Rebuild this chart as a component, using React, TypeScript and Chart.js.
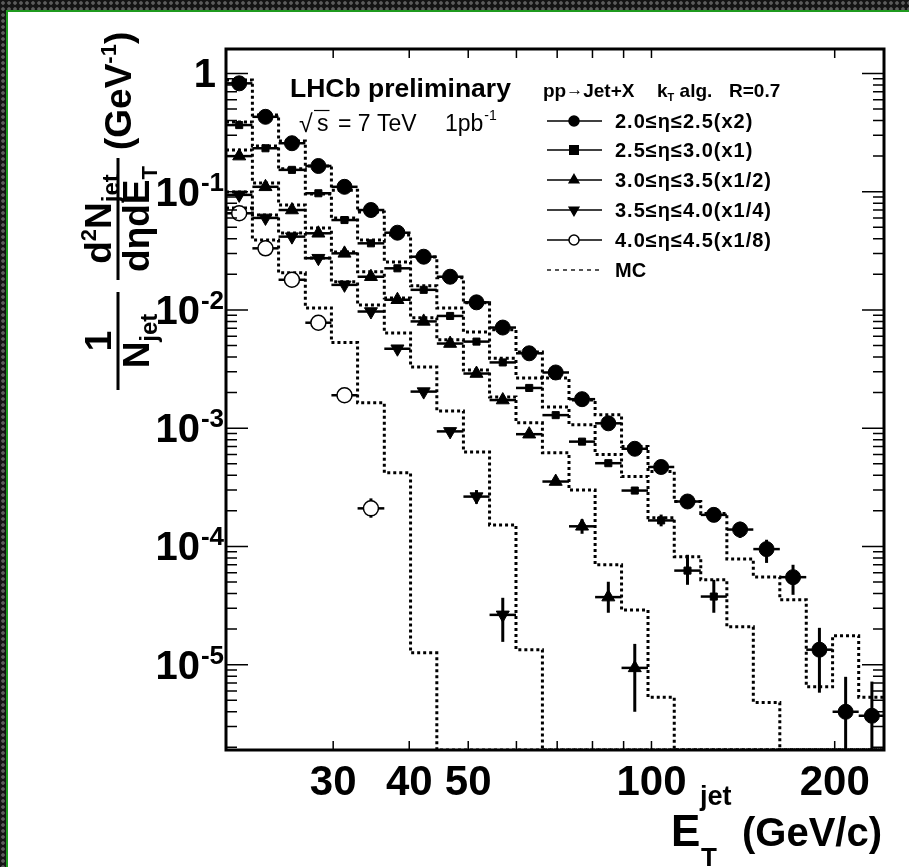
import React, { useEffect, useRef } from 'react';
import { Chart, registerables } from 'chart.js';

Chart.register(...registerables);

// ---------------- data ----------------
const BIN_EDGES = [20, 22.1, 24.4, 27.0, 29.8, 32.9, 36.4, 40.2, 44.4, 49.1, 54.2, 59.9, 66.2, 73.2, 80.8, 89.3, 98.7, 109, 120.5, 133, 147, 162.5, 179.6, 198.4, 219, 242];

const SERIES_LABELS = ['2.0≤η≤2.5(x2)', '2.5≤η≤3.0(x1)', '3.0≤η≤3.5(x1/2)', '3.5≤η≤4.0(x1/4)', '4.0≤η≤4.5(x1/8)'];
const MC_LABEL = 'MC';

const DATA_ETA_20_25 = [0.825, 0.43, 0.257, 0.165, 0.11, 0.07, 0.045, 0.0282, 0.0191, 0.0116, 0.0071, 0.0043, 0.00296, 0.00176, 0.0011, 0.00067, 0.00047, 0.00024, 0.000185, 0.000139, 0.000095, 0.000055, 0.0000134, 0.000004, 0.0000037];
const DATA_ETA_25_30 = [0.366, 0.233, 0.153, 0.097, 0.0576, 0.0366, 0.0225, 0.0148, 0.0089, 0.0054, 0.0036, 0.00219, 0.00129, 0.00077, 0.000506, 0.000297, 0.000166, 0.0000625, 0.0000377];
const DATA_ETA_30_35 = [0.2, 0.11, 0.07, 0.0445, 0.0301, 0.0191, 0.0122, 0.008, 0.0052, 0.0029, 0.00173, 0.00089, 0.000354, 0.000148, 0.0000373, 0.0000094];
const DATA_ETA_35_40 = [0.094, 0.06, 0.0417, 0.0274, 0.0163, 0.0097, 0.0047, 0.00204, 0.00094, 0.000264, 0.0000264];
const DATA_ETA_40_45 = [0.0657, 0.0332, 0.018, 0.0078, 0.0019, 0.00021];

// vertical error bar bounds (null = hidden behind marker, 0 = below the axis)
const ERR_LO_20_25 = [null, null, null, null, null, null, null, null, null, null, null, null, null, null, null, null, null, null, null, 0.000118, 0.0000726, 0.000039, 0.0000058, 0, 0];
const ERR_HI_20_25 = [null, null, null, null, null, null, null, null, null, null, null, null, null, null, null, null, null, null, null, 0.000162, 0.000114, 0.00007, 0.0000205, 0.0000079, 0.0000072];
const ERR_LO_25_30 = [null, null, null, null, null, null, null, null, null, null, null, null, null, null, null, null, 0.000148, 0.0000474, 0.0000275];
const ERR_HI_25_30 = [null, null, null, null, null, null, null, null, null, null, null, null, null, null, null, null, 0.000186, 0.000085, 0.0000522];
const ERR_LO_30_35 = [null, null, null, null, null, null, null, null, null, null, null, null, null, 0.000128, 0.0000275, 0.000004];
const ERR_HI_30_35 = [null, null, null, null, null, null, null, null, null, null, null, null, null, 0.00017, 0.0000503, 0.000015];
const ERR_LO_35_40 = [null, null, null, null, null, null, null, null, null, 0.00023, 0.0000156];
const ERR_HI_35_40 = [null, null, null, null, null, null, null, null, null, 0.0003, 0.0000368];
const ERR_LO_40_45 = [null, null, null, null, null, 0.000175];
const ERR_HI_40_45 = [null, null, null, null, null, 0.000255];

// MC histograms (0 = empty bin, drawn on the axis floor)
const MC_ETA_20_25 = [0.88, 0.445, 0.268, 0.165, 0.103, 0.0674, 0.0431, 0.0281, 0.0187, 0.0115, 0.0068, 0.0044, 0.00266, 0.00173, 0.0013, 0.0007, 0.00043, 0.00024, 0.00019, 0.0000785, 0.0000553, 0.0000354, 0.0000065, 0.0000176, 0.0000053];
const MC_ETA_25_30 = [0.388, 0.243, 0.156, 0.0956, 0.06, 0.039, 0.0254, 0.016, 0.0104, 0.0065, 0.0039, 0.00266, 0.00151, 0.00107, 0.0006, 0.00039, 0.000175, 0.0000817, 0.0000522, 0.0000209, 0.0000048, 0, 0, 0, 0];
const MC_ETA_30_35 = [0.225, 0.1185, 0.0772, 0.0493, 0.0309, 0.021, 0.0126, 0.0086, 0.0056, 0.0031, 0.00184, 0.00111, 0.00062, 0.0003, 0.00007, 0.000029, 0.0000053, 0, 0, 0, 0, 0, 0, 0, 0];
const MC_ETA_35_40 = [0.0994, 0.0635, 0.0448, 0.0275, 0.0173, 0.011, 0.0064, 0.0033, 0.0014, 0.00063, 0.000152, 0.0000134, 0, 0, 0, 0, 0, 0, 0, 0, 0, 0, 0, 0, 0];
const MC_ETA_40_45 = [0.0728, 0.0391, 0.0206, 0.0104, 0.0053, 0.00164, 0.00042, 0.0000126, 0, 0, 0, 0, 0, 0, 0, 0, 0, 0, 0, 0, 0, 0, 0, 0, 0];

const X_MIN = 20;
const X_MAX = 241;
const Y_MIN = 1.9e-6;
const Y_MAX = 1.61;
const X_TICK_VALUES = [30, 40, 50, 100, 200];
const X_MARK_VALUES = [30, 40, 50, 60, 70, 80, 90, 100, 200];
const Y_TICK_VALUES = [1, 0.1, 0.01, 0.001, 0.0001, 0.00001];
const Y_TICK_EXPONENTS = ['', '-1', '-2', '-3', '-4', '-5'];

// ---------------- styling ----------------
const FONT = '"Liberation Sans", Arial, Helvetica, sans-serif';

const SERIES = [
  { label: SERIES_LABELS[0], values: DATA_ETA_20_25, lo: ERR_LO_20_25, hi: ERR_HI_20_25, mc: MC_ETA_20_25, style: 'circle', r: 7.5, rot: 0, fill: '#000' },
  { label: SERIES_LABELS[1], values: DATA_ETA_25_30, lo: ERR_LO_25_30, hi: ERR_HI_25_30, mc: MC_ETA_25_30, style: 'rect', r: 5, rot: 0, fill: '#000' },
  { label: SERIES_LABELS[2], values: DATA_ETA_30_35, lo: ERR_LO_30_35, hi: ERR_HI_30_35, mc: MC_ETA_30_35, style: 'triangle', r: 7.5, rot: 0, fill: '#000' },
  { label: SERIES_LABELS[3], values: DATA_ETA_35_40, lo: ERR_LO_35_40, hi: ERR_HI_35_40, mc: MC_ETA_35_40, style: 'triangle', r: 7.5, rot: 180, fill: '#000' },
  { label: SERIES_LABELS[4], values: DATA_ETA_40_45, lo: ERR_LO_40_45, hi: ERR_HI_40_45, mc: MC_ETA_40_45, style: 'circle', r: 7.5, rot: 0, fill: '#fff' },
];

const binCenter = (i: number) => Math.sqrt(BIN_EDGES[i] * BIN_EDGES[i + 1]);

type Run = { t: string; s: number; dy?: number; bold?: boolean; dx?: number };
function setFont(ctx: CanvasRenderingContext2D, r: Run) {
  ctx.font = `${r.bold === false ? 'normal' : 'bold'} ${r.s}px ${FONT}`;
}
function runsWidth(ctx: CanvasRenderingContext2D, runs: Run[]) {
  let w = 0;
  for (const r of runs) { setFont(ctx, r); w += ctx.measureText(r.t).width + (r.dx || 0); }
  return w;
}
function drawRuns(ctx: CanvasRenderingContext2D, runs: Run[], x: number, y: number, align = 'left') {
  let cx = align === 'left' ? x : align === 'center' ? x - runsWidth(ctx, runs) / 2 : x - runsWidth(ctx, runs);
  ctx.textAlign = 'left';
  ctx.textBaseline = 'alphabetic';
  for (const r of runs) {
    setFont(ctx, r);
    cx += r.dx || 0;
    ctx.fillText(r.t, cx, y + (r.dy || 0));
    cx += ctx.measureText(r.t).width;
  }
  return cx;
}

function drawMarker(ctx: CanvasRenderingContext2D, style: string, x: number, y: number, r: number, rot: number, fill: string) {
  ctx.save();
  ctx.fillStyle = fill;
  ctx.strokeStyle = '#000';
  ctx.lineWidth = 1.5;
  ctx.beginPath();
  if (style === 'circle') {
    ctx.arc(x, y, r, 0, Math.PI * 2);
  } else if (style === 'rect') {
    const h = r * Math.SQRT1_2;
    ctx.rect(x - h, y - h, 2 * h, 2 * h);
  } else {
    let a = (rot * Math.PI) / 180;
    ctx.moveTo(x + Math.sin(a) * r, y - Math.cos(a) * r);
    a += (2 * Math.PI) / 3;
    ctx.lineTo(x + Math.sin(a) * r, y - Math.cos(a) * r);
    a += (2 * Math.PI) / 3;
    ctx.lineTo(x + Math.sin(a) * r, y - Math.cos(a) * r);
    ctx.closePath();
  }
  ctx.fill();
  ctx.stroke();
  ctx.restore();
}

function buildConfig(): any {
  const datasets: any[] = [];
  const markerInfo: Record<number, any> = {};
  SERIES.forEach((s) => {
    const mcPts = s.mc.map((v, i) => ({ x: BIN_EDGES[i], y: v > 0 ? v : Y_MIN }));
    const last = s.mc[s.mc.length - 1];
    mcPts.push({ x: BIN_EDGES[s.mc.length], y: last > 0 ? last : Y_MIN });
    datasets.push({
      type: 'line',
      label: s.label + ' ' + MC_LABEL,
      data: mcPts,
      stepped: 'before',
      borderColor: '#000',
      borderWidth: 3,
      borderDash: [3, 3],
      borderCapStyle: 'butt',
      pointRadius: 0,
      fill: false,
      order: 2,
    });
  });
  SERIES.forEach((s) => {
    markerInfo[datasets.length] = s;
    datasets.push({
      type: 'scatter',
      label: s.label,
      data: s.values.map((v, i) => ({ x: binCenter(i), y: v })),
      showLine: false,
      pointStyle: s.style,
      pointRadius: s.r,
      pointRotation: s.rot,
      pointBackgroundColor: s.fill,
      pointBorderColor: '#000',
      pointBorderWidth: s.fill === '#fff' ? 1.5 : 1,
      order: 1,
    });
  });

  const decor = {
    id: 'hepDecor',
    beforeDatasetDraw(chart: any, args: any) {
      const s = markerInfo[args.index];
      if (!s) return;
      const { ctx, chartArea: a } = chart;
      const xs = chart.scales.x;
      const ys = chart.scales.y;
      ctx.save();
      ctx.beginPath();
      ctx.rect(a.left, a.top, a.right - a.left, a.bottom - a.top);
      ctx.clip();
      ctx.strokeStyle = '#000';
      s.values.forEach((v: number, i: number) => {
        const y = ys.getPixelForValue(v);
        ctx.lineWidth = 2.5;
        ctx.beginPath();
        ctx.moveTo(xs.getPixelForValue(BIN_EDGES[i]), y);
        ctx.lineTo(xs.getPixelForValue(BIN_EDGES[i + 1]), y);
        ctx.stroke();
        const lo = s.lo[i];
        const hi = s.hi[i];
        if (lo !== null && hi !== null) {
          const x = xs.getPixelForValue(binCenter(i));
          ctx.lineWidth = 3;
          ctx.beginPath();
          ctx.moveTo(x, lo > 0 ? ys.getPixelForValue(lo) : a.bottom + 5);
          ctx.lineTo(x, ys.getPixelForValue(hi));
          ctx.stroke();
        }
      });
      ctx.restore();
    },
    afterDraw(chart: any) {
      const { ctx, chartArea: a } = chart;
      const xs = chart.scales.x;
      const ys = chart.scales.y;
      ctx.save();
      ctx.strokeStyle = '#000';
      ctx.fillStyle = '#000';
      ctx.setLineDash([]);

      // y tick marks (left & right)
      ctx.lineWidth = 1.5;
      for (let e = -6; e <= 0; e++) {
        for (let m = 1; m <= 9; m++) {
          const v = m * Math.pow(10, e);
          if (v < Y_MIN || v > Y_MAX) continue;
          const y = ys.getPixelForValue(v);
          const len = m === 1 ? 22 : 11;
          ctx.beginPath();
          ctx.moveTo(a.left, y);
          ctx.lineTo(a.left + len, y);
          ctx.moveTo(a.right, y);
          ctx.lineTo(a.right - len, y);
          ctx.stroke();
        }
      }
      // x tick marks (top & bottom)
      X_MARK_VALUES.forEach((v) => {
        const x = xs.getPixelForValue(v);
        ctx.beginPath();
        ctx.moveTo(x, a.top);
        ctx.lineTo(x, a.top + 9);
        ctx.moveTo(x, a.bottom);
        ctx.lineTo(x, a.bottom - 9);
        ctx.stroke();
      });
      // frame
      ctx.lineWidth = 3;
      ctx.strokeRect(a.left, a.top, a.right - a.left, a.bottom - a.top);

      // y tick labels with superscripts
      Y_TICK_VALUES.forEach((v, i) => {
        const y = ys.getPixelForValue(v) + 14;
        const exp = Y_TICK_EXPONENTS[i];
        if (exp) {
          drawRuns(ctx, [{ t: '10', s: 40 }, { t: exp, s: 26, dy: -15, dx: 1 }], 224, y, 'right');
        } else {
          drawRuns(ctx, [{ t: '1', s: 40 }], 216, y, 'right');
        }
      });

      // y axis title (rotated)
      ctx.save();
      ctx.translate(118, 400);
      ctx.rotate(-Math.PI / 2);
      ctx.lineWidth = 3;
      ctx.beginPath();
      ctx.moveTo(10, 0);
      ctx.lineTo(108, 0);
      ctx.moveTo(120, 0);
      ctx.lineTo(242, 0);
      ctx.stroke();
      drawRuns(ctx, [{ t: '1', s: 37 }], 59, -7, 'center');
      drawRuns(ctx, [{ t: 'N', s: 37 }, { t: 'jet', s: 24, dy: 8 }], 59, 31, 'center');
      drawRuns(ctx, [{ t: 'd', s: 37 }, { t: '2', s: 22, dy: -15 }, { t: 'N', s: 37 }, { t: 'jet', s: 24, dy: 8 }], 181, -7, 'center');
      drawRuns(ctx, [{ t: 'd', s: 37 }, { t: 'η', s: 37 }, { t: 'd', s: 37 }, { t: 'E', s: 37 }, { t: 'T', s: 22, dy: 8 }], 181, 31, 'center');
      drawRuns(ctx, [{ t: '(GeV', s: 37 }, { t: '-1', s: 22, dy: -15 }, { t: ')', s: 37 }], 250, 13, 'left');
      ctx.restore();

      // x axis title
      drawRuns(ctx, [{ t: 'E', s: 44 }], 671, 846, 'left');
      drawRuns(ctx, [{ t: 'jet', s: 27 }], 700, 805, 'left');
      drawRuns(ctx, [{ t: 'T', s: 26 }], 701, 866, 'left');
      drawRuns(ctx, [{ t: '(GeV/c)', s: 40 }], 742, 846, 'left');

      // plot annotations
      drawRuns(ctx, [{ t: 'LHCb preliminary', s: 26.5 }], 290, 97, 'left');
      drawRuns(ctx, [{ t: '√', s: 25, bold: false }], 299, 132, 'left');
      const sx = drawRuns(ctx, [{ t: 's', s: 23, bold: false }], 317, 131, 'left');
      ctx.lineWidth = 1.2;
      ctx.beginPath();
      ctx.moveTo(314, 110.5);
      ctx.lineTo(sx + 1, 110.5);
      ctx.stroke();
      drawRuns(ctx, [{ t: '= 7 TeV', s: 23, bold: false }], 338, 131, 'left');
      drawRuns(ctx, [{ t: '1pb', s: 23, bold: false }, { t: '-1', s: 14, bold: false, dy: -11, dx: 1 }], 445, 131, 'left');

      // legend
      drawRuns(ctx, [{ t: 'pp', s: 19 }, { t: '→', s: 17, bold: false, dy: -2 }, { t: 'Jet+X', s: 19 }], 543, 97, 'left');
      drawRuns(ctx, [{ t: 'k', s: 19 }, { t: 'T', s: 11, dy: 4 }, { t: ' alg.', s: 19 }], 657, 97, 'left');
      drawRuns(ctx, [{ t: 'R=0.7', s: 19 }], 729, 97, 'left');
      const ly = [121, 150, 180, 210, 240, 270];
      const legR = [5, 6, 5.5, 5.5, 5];
      SERIES.forEach((s, i) => {
        const y = ly[i];
        ctx.strokeStyle = '#000';
        ctx.lineWidth = 1.5;
        ctx.setLineDash([]);
        ctx.beginPath();
        ctx.moveTo(547, y);
        ctx.lineTo(602, y);
        ctx.stroke();
        drawMarker(ctx, s.style, 574, y, legR[i], s.rot, s.fill);
        ctx.fillStyle = '#000';
        (ctx as any).letterSpacing = '1px';
        drawRuns(ctx, [{ t: s.label, s: 20 }], 615, y + 7, 'left');
        (ctx as any).letterSpacing = '0px';
      });
      ctx.strokeStyle = '#555';
      ctx.lineWidth = 2;
      ctx.setLineDash([4, 4]);
      ctx.beginPath();
      ctx.moveTo(547, ly[5]);
      ctx.lineTo(602, ly[5]);
      ctx.stroke();
      ctx.setLineDash([]);
      ctx.fillStyle = '#000';
      drawRuns(ctx, [{ t: MC_LABEL, s: 20 }], 615, ly[5] + 7, 'left');
      ctx.restore();
    },
  };

  return {
    type: 'scatter',
    data: { datasets },
    plugins: [decor],
    options: {
      responsive: false,
      animation: false,
      devicePixelRatio: 1,
      events: [],
      layout: { padding: { top: 49, right: 25, left: 0, bottom: 0 } },
      plugins: { legend: { display: false }, tooltip: { enabled: false } },
      scales: {
        x: {
          type: 'logarithmic',
          min: X_MIN,
          max: X_MAX,
          grid: { display: false, drawTicks: false },
          border: { display: false },
          afterBuildTicks: (scale: any) => {
            scale.ticks = X_TICK_VALUES.map((v) => ({ value: v }));
          },
          afterFit: (scale: any) => {
            scale.height = 117;
          },
          ticks: {
            autoSkip: false,
            maxRotation: 0,
            minRotation: 0,
            padding: 8,
            color: '#000',
            font: { family: FONT, size: 42, weight: 'bold' },
            callback: (v: any) => String(v),
          },
        },
        y: {
          type: 'logarithmic',
          min: Y_MIN,
          max: Y_MAX,
          grid: { display: false, drawTicks: false },
          border: { display: false },
          ticks: { display: false },
          afterFit: (scale: any) => {
            scale.width = 226;
          },
        },
      },
    },
  };
}

const DOTS = {
  backgroundColor: '#141414',
  backgroundImage: 'radial-gradient(circle at 3px 3px, #5c5c5c 1.4px, rgba(0,0,0,0) 2.2px)',
  backgroundSize: '6px 6px',
};

export default function App() {
  const ref = useRef<HTMLCanvasElement | null>(null);
  useEffect(() => {
    const canvas = ref.current;
    if (!canvas) return;
    const chart = new Chart(canvas, buildConfig());
    return () => chart.destroy();
  }, []);
  return (
    <div style={{ position: 'fixed', left: 0, top: 0, width: 909, height: 867, overflow: 'hidden', background: '#fff' }}>
      <div style={{ position: 'absolute', left: 0, top: 0, width: 909, height: 10, ...DOTS }} />
      <div style={{ position: 'absolute', left: 0, top: 0, width: 6, height: 867, ...DOTS }} />
      <div style={{ position: 'absolute', left: 6, top: 10, width: 903, height: 2, background: '#1f9a1f' }} />
      <div style={{ position: 'absolute', left: 6, top: 10, width: 2, height: 857, background: '#1f9a1f' }} />
      <canvas ref={ref} width={909} height={867} style={{ position: 'absolute', left: 0, top: 0, width: 909, height: 867 }} />
    </div>
  );
}
